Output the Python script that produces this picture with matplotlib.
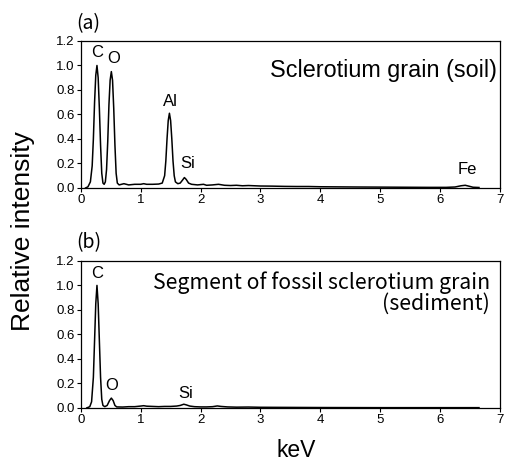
import numpy as np
import matplotlib
matplotlib.use('Agg')
import matplotlib.pyplot as plt

# spectrum (a): sclerotium grain (soil), keV vs relative intensity
kev_a = [0.08, 0.12, 0.16, 0.19, 0.21, 0.23, 0.25, 0.27, 0.29, 0.31, 0.33, 0.35, 0.37,
         0.39, 0.41, 0.43, 0.45, 0.47, 0.49, 0.51, 0.53, 0.55, 0.57, 0.59, 0.61, 0.64,
         0.68, 0.72, 0.80, 0.90, 1.00, 1.05, 1.10, 1.20, 1.30, 1.36, 1.40, 1.42, 1.44,
         1.46, 1.48, 1.50, 1.52, 1.54, 1.56, 1.58, 1.62, 1.66, 1.70, 1.73, 1.76, 1.80,
         1.85, 1.95, 2.05, 2.10, 2.20, 2.30, 2.40, 2.50, 2.60, 2.70, 2.80, 3.00, 3.20,
         3.40, 3.60, 3.80, 4.00, 4.30, 4.60, 5.00, 5.40, 5.80, 6.10, 6.25, 6.35, 6.42,
         6.48, 6.55, 6.65]
int_a = [0.0, 0.01, 0.05, 0.18, 0.40, 0.70, 0.92, 1.00, 0.90, 0.65, 0.35, 0.12, 0.04,
         0.03, 0.05, 0.15, 0.38, 0.68, 0.88, 0.95, 0.88, 0.65, 0.35, 0.12, 0.04, 0.025,
         0.03, 0.035, 0.025, 0.03, 0.03, 0.035, 0.03, 0.03, 0.032, 0.04, 0.10, 0.22, 0.40,
         0.55, 0.61, 0.55, 0.40, 0.22, 0.10, 0.05, 0.035, 0.04, 0.065, 0.085, 0.07, 0.04,
         0.03, 0.025, 0.03, 0.022, 0.025, 0.03, 0.022, 0.02, 0.022, 0.018, 0.02, 0.016, 0.015,
         0.013, 0.012, 0.012, 0.01, 0.009, 0.008, 0.007, 0.006, 0.005, 0.005, 0.008, 0.018, 0.022,
         0.015, 0.006, 0.004]

# spectrum (b): fossil sclerotium segment (sediment)
kev_b = [0.10, 0.15, 0.18, 0.21, 0.23, 0.25, 0.27, 0.29, 0.31, 0.33, 0.35, 0.37, 0.40,
         0.44, 0.48, 0.51, 0.54, 0.57, 0.60, 0.70, 0.80, 0.90, 1.00, 1.05, 1.10, 1.20,
         1.30, 1.40, 1.50, 1.60, 1.66, 1.72, 1.76, 1.82, 1.90, 2.00, 2.10, 2.20, 2.28,
         2.34, 2.45, 2.60, 2.80, 3.00, 3.50, 4.00, 5.00, 6.00, 6.65]
int_b = [0.0, 0.01, 0.05, 0.25, 0.55, 0.85, 1.00, 0.85, 0.55, 0.25, 0.07, 0.02, 0.01,
         0.02, 0.06, 0.08, 0.06, 0.02, 0.008, 0.007, 0.01, 0.01, 0.015, 0.018, 0.014, 0.012,
         0.01, 0.012, 0.012, 0.015, 0.02, 0.03, 0.025, 0.015, 0.01, 0.008, 0.008, 0.01, 0.016,
         0.012, 0.008, 0.006, 0.007, 0.005, 0.004, 0.003, 0.002, 0.002, 0.002]

labels_a = ['C', 'O', 'Al', 'Si', 'Fe']
lab_x_a = [0.27, 0.55, 1.49, 1.79, 6.45]
lab_y_a = [1.11, 1.06, 0.71, 0.20, 0.15]
labels_b = ['C', 'O', 'Si']
lab_x_b = [0.28, 0.52, 1.75]
lab_y_b = [1.10, 0.18, 0.12]

tick_font = 'Liberation Sans'
jp_font = ['Noto Sans CJK JP', 'DejaVu Sans']

fig = plt.figure(figsize=(5.05, 4.63), dpi=100)
ax1 = fig.add_axes([0.160, 0.594, 0.830, 0.3175])
ax2 = fig.add_axes([0.160, 0.119, 0.830, 0.3175])

def style(ax):
    ax.set_xlim(0, 7)
    ax.set_ylim(0, 1.2)
    ax.set_xticks(range(0, 8))
    ax.set_yticks(np.arange(0, 1.21, 0.2))
    ax.set_yticklabels(['%.1f' % v for v in np.arange(0, 1.21, 0.2)])
    ax.tick_params(direction='out', length=3, width=0.8, labelsize=9.5, pad=1.5)
    for lab in ax.get_xticklabels() + ax.get_yticklabels():
        lab.set_fontfamily(tick_font)
    for s in ax.spines.values():
        s.set_linewidth(0.9)

ax1.plot(kev_a, int_a, color='black', lw=1.1)
ax2.plot(kev_b, int_b, color='black', lw=1.1)
style(ax1)
style(ax2)

for t, x, y in zip(labels_a, lab_x_a, lab_y_a):
    ax1.text(x, y, t, ha='center', va='center', fontsize=12, family=tick_font)
for t, x, y in zip(labels_b, lab_x_b, lab_y_b):
    ax2.text(x, y, t, ha='center', va='center', fontsize=12, family=tick_font)

ax1.text(0.992, 0.80, 'Sclerotium grain (soil)', transform=ax1.transAxes,
         ha='right', va='center', fontsize=16.8, family=tick_font)
ax2.text(0.976, 0.855, 'Segment of fossil sclerotium grain', transform=ax2.transAxes,
         ha='right', va='center', fontsize=15.3, family=jp_font)
ax2.text(0.976, 0.71, '(sediment)', transform=ax2.transAxes,
         ha='right', va='center', fontsize=15.3, family=jp_font)

fig.text(0.150, 0.950, '(a)', fontsize=14, family=jp_font, va='center', ha='left')
fig.text(0.150, 0.475, '(b)', fontsize=14, family=jp_font, va='center', ha='left')
fig.text(0.046, 0.501, 'Relative intensity', rotation=90, fontsize=19,
         family=tick_font, va='center', ha='center')
fig.text(0.586, 0.026, 'keV', fontsize=16.5, family=tick_font, va='center', ha='center')

fig.savefig('out.png', dpi=100)
